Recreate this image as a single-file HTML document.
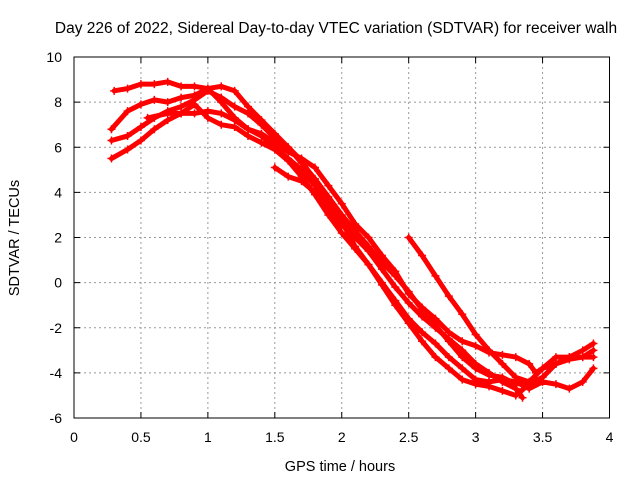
<!DOCTYPE html>
<html><head><meta charset="utf-8"><style>
body{margin:0;background:#fff;}
svg{display:block;font-family:"Liberation Sans",sans-serif;}
</style></head><body>
<svg id="chart" width="640" height="480" xmlns="http://www.w3.org/2000/svg">
<text x="336" y="33" font-size="15.5" text-anchor="middle">Day 226 of 2022, Sidereal Day-to-day VTEC variation (SDTVAR) for receiver walh</text>
<text x="340" y="471" font-size="14.5" text-anchor="middle">GPS time / hours</text>
<text transform="translate(19,238) rotate(-90)" font-size="14.5" text-anchor="middle">SDTVAR / TECUs</text>
<g id="grid"></g><g id="ticks"></g><g id="series"></g>
<rect x="74" y="57" width="535.5" height="361" fill="none" stroke="#000" stroke-width="1"/>
</svg>
<script>
const xTicks=[0,0.5,1,1.5,2,2.5,3,3.5,4];
const xTickLabels=["0","0.5","1","1.5","2","2.5","3","3.5","4"];
const yTicks=[-6,-4,-2,0,2,4,6,8,10];
const yTickLabels=["-6","-4","-2","0","2","4","6","8","10"];
const sAx=[0.3,0.4,0.5,0.6,0.7,0.8,0.9,1.0,1.1,1.2,1.3,1.4,1.5,1.6,1.7,1.8,1.9,2.0,2.1,2.2,2.3,2.4,2.5,2.6,2.7,2.8,2.9,3.0,3.1,3.2,3.3,3.4,3.5,3.6,3.7,3.8,3.88];
const sAy=[8.5,8.6,8.8,8.8,8.9,8.7,8.7,8.6,8.7,8.5,7.8,7.2,6.6,6.0,5.4,4.5,3.7,2.7,1.6,0.8,-0.1,-1.0,-1.8,-2.6,-3.3,-3.8,-4.3,-4.5,-4.6,-4.8,-5.0,-4.5,-4.2,-3.6,-3.3,-3.0,-2.7];
const sBx=[0.28,0.4,0.5,0.6,0.7,0.8,0.9,1.0,1.1,1.2,1.3,1.4,1.5,1.6,1.7,1.8,1.9,2.0,2.1,2.2,2.3,2.4,2.5,2.6,2.7,2.8,2.9,3.0,3.1,3.2,3.3,3.4,3.45,3.5,3.6,3.7,3.8,3.88];
const sBy=[6.8,7.6,7.9,8.1,8.0,8.2,8.3,8.6,8.0,7.3,6.8,6.6,6.2,5.8,5.5,5.1,4.3,3.5,2.6,2.0,1.2,0.5,-0.5,-1.1,-1.6,-2.2,-2.6,-2.8,-3.1,-3.2,-3.3,-3.6,-4.0,-3.8,-3.3,-3.3,-3.3,-3.0];
const sCx=[0.28,0.4,0.5,0.6,0.7,0.8,0.9,1.0,1.1,1.2,1.3,1.4,1.5,1.6,1.7,1.8,1.9,2.0,2.1,2.2,2.3,2.4,2.5,2.6,2.7,2.8,2.9,3.0,3.1,3.2,3.3,3.4,3.5,3.6,3.7,3.8,3.88];
const sCy=[6.3,6.5,6.9,7.3,7.6,7.8,8.1,8.5,8.2,7.8,7.5,7.0,6.4,6.0,5.3,4.6,3.8,3.0,2.3,1.6,0.9,0.3,-0.4,-1.2,-1.9,-2.6,-3.3,-3.8,-4.1,-4.2,-4.5,-4.4,-3.8,-3.6,-3.4,-3.3,-3.3];
const sDx=[0.28,0.4,0.5,0.6,0.7,0.8,0.9,1.0,1.1,1.2,1.3,1.4,1.5,1.6,1.7,1.8,1.9,2.0,2.1,2.2,2.3,2.4,2.5,2.6,2.7,2.8,2.9,3.0,3.1,3.2,3.3,3.4,3.5,3.6,3.7,3.8,3.88];
const sDy=[5.5,5.9,6.3,6.8,7.2,7.5,7.9,7.3,7.0,6.9,6.5,6.2,5.9,5.4,4.7,3.9,3.0,2.2,1.5,0.8,0.0,-0.8,-1.6,-2.2,-2.7,-3.3,-3.8,-4.3,-4.4,-4.3,-4.4,-4.7,-4.4,-4.5,-4.7,-4.4,-3.8];
const sEx=[0.55,0.7,0.8,0.9,1.0,1.1,1.2,1.3,1.4,1.5,1.6,1.7,1.8,1.9,2.0,2.1,2.2,2.3,2.4,2.5,2.6,2.7,2.8,2.9,3.0,3.1,3.2,3.3,3.35];
const sEy=[7.3,7.5,7.5,7.5,7.6,7.5,7.2,6.8,6.5,6.0,5.5,5.0,4.3,3.5,2.7,2.0,1.4,0.6,-0.2,-0.9,-1.5,-2.0,-2.5,-3.0,-3.6,-4.0,-4.4,-4.7,-5.1];
const sFx=[1.5,1.6,1.7,1.8,1.9,2.0];
const sFy=[5.1,4.7,4.5,4.0,3.3,2.5];
const sGx=[2.5,2.6,2.7,2.8,2.9,3.0,3.1,3.2,3.3,3.4];
const sGy=[2.0,1.2,0.3,-0.6,-1.4,-2.3,-3.0,-3.6,-4.2,-4.4];
const series=[[sAx,sAy],[sBx,sBy],[sCx,sCy],[sDx,sDy],[sEx,sEy],[sFx,sFy],[sGx,sGy]];
const X0=74,X1=609.5,Y0=418,Y1=57;
const xs=v=>X0+(v-0)/(4-0)*(X1-X0);
const ys=v=>Y0-(v+6)/(16)*(Y0-Y1);
const NS="http://www.w3.org/2000/svg";
function mk(t,a,p){const e=document.createElementNS(NS,t);for(const k in a)e.setAttribute(k,a[k]);p.appendChild(e);return e;}
const grid=document.getElementById('grid'),ticks=document.getElementById('ticks'),sg=document.getElementById('series');
xTicks.forEach((v,i)=>{const x=xs(v);
 if(i>0&&i<xTicks.length-1){const g=mk('line',{x1:x,x2:x,y1:Y1,y2:Y0,stroke:'#999','stroke-dasharray':'2,3'},grid);
 
 }
 mk('line',{x1:x,x2:x,y1:Y0,y2:Y0-6,stroke:'#000'},ticks);mk('line',{x1:x,x2:x,y1:Y1,y2:Y1+6,stroke:'#000'},ticks);
 const t=mk('text',{x:x,y:442,'font-size':14,'text-anchor':'middle'},ticks);t.textContent=xTickLabels[i];
 
 });
yTicks.forEach((v,i)=>{const y=ys(v);
 if(i>0&&i<yTicks.length-1){const g=mk('line',{x1:X0,x2:X1,y1:y,y2:y,stroke:'#999','stroke-dasharray':'2,3'},grid);
 
 }
 mk('line',{x1:X0,x2:X0+6,y1:y,y2:y,stroke:'#000'},ticks);mk('line',{x1:X1,x2:X1-6,y1:y,y2:y,stroke:'#000'},ticks);
 const t=mk('text',{x:62,y:y+5,'font-size':14,'text-anchor':'end'},ticks);t.textContent=yTickLabels[i];
 
 });
series.forEach((s,k)=>{const [xa,ya]=s;
 const pts=xa.map((x,i)=>xs(x)+','+ys(ya[i])).join(' ');
 const pl=mk('polyline',{points:pts,fill:'none',stroke:'#f00','stroke-width':5,'stroke-linejoin':'round','stroke-linecap':'round'},sg);
 
 
 xa.forEach((x,i)=>{const cx=xs(x),cy=ys(ya[i]);
  const p=mk('path',{d:`M${cx-4},${cy}h8M${cx},${cy-4}v8`,stroke:'#f00','stroke-width':1.5},sg);
  
  });});
</script>
</body></html>
